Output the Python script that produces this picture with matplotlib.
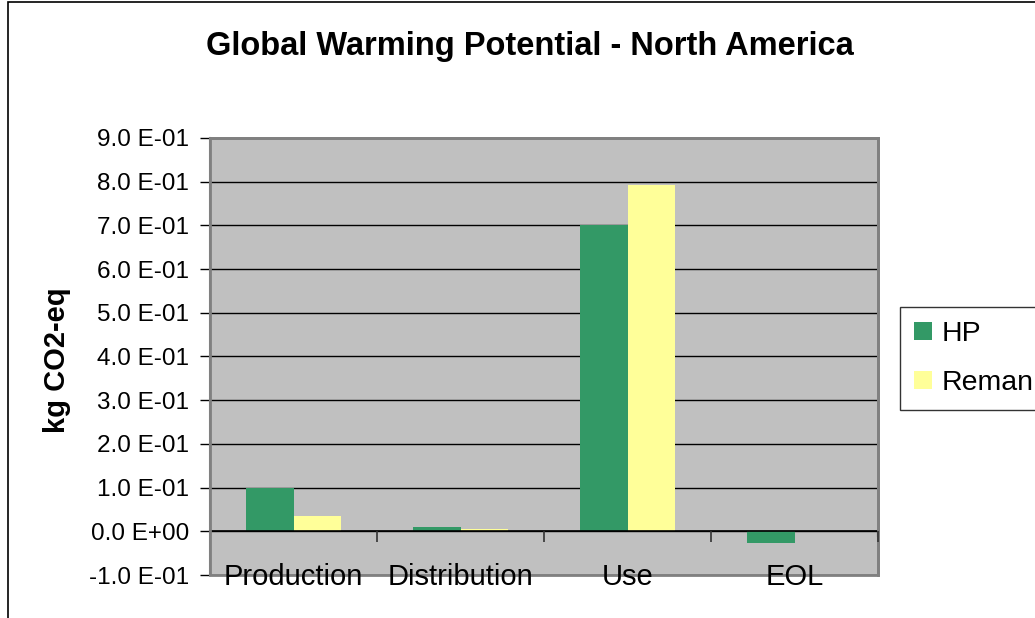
import numpy as np
import matplotlib.pyplot as plt
from matplotlib.patches import Rectangle
from matplotlib.ticker import FixedLocator, FuncFormatter

plt.rcParams['font.family'] = ['Liberation Sans', 'DejaVu Sans']

stages = ['Production', 'Distribution', 'Use', 'EOL']
hp = [0.100, 0.010, 0.700, -0.027]
reman = [0.035, 0.005, 0.793, 0.0]

green = '#339966'
yellow = '#FFFF99'


def sci_label(v, pos):
    if abs(v) < 1e-9:
        return '0.0 E+00'
    exp = int(np.floor(np.log10(abs(v))))
    mant = v / 10 ** exp
    sign = '+' if exp >= 0 else '-'
    return '%.1f E%s%02d' % (mant, sign, abs(exp))


fig = plt.figure(figsize=(10.35, 6.18), dpi=100)
ax = fig.add_axes([210 / 1035, 1 - 575 / 618, 668 / 1035, 437 / 618])
ax.set_facecolor('#C0C0C0')

x = np.arange(len(stages))
w = 0.285
ax.bar(x - w / 2, hp, w, color=green, label='HP', zorder=3)
ax.bar(x + w / 2, reman, w, color=yellow, label='Reman', zorder=3)

ax.set_xlim(-0.5, len(stages) - 0.5)
ax.set_ylim(-0.1, 0.9)
ax.set_yticks(np.arange(-0.1, 0.91, 0.1))
ax.yaxis.set_major_formatter(FuncFormatter(sci_label))
ax.yaxis.grid(True, color='black', linewidth=1.0, zorder=1)
ax.set_axisbelow(True)
ax.tick_params(axis='y', direction='out', length=7, width=1, labelsize=17.5, pad=8)

# category axis sits on zero, labels stay below the plot area
ax.spines['bottom'].set_position(('data', 0))
ax.spines['bottom'].set_linewidth(1.2)
ax.spines['bottom'].set_zorder(4)
ax.set_xticks(x)
ax.set_xticklabels(stages)
ax.xaxis.set_minor_locator(FixedLocator(np.arange(0.5, len(stages) - 0.4, 1.0)))
ax.tick_params(axis='x', which='major', length=0, labelsize=21, pad=23)
ax.tick_params(axis='x', which='minor', direction='out', length=8, width=1.2, color='#333333')
ax.xaxis.set_zorder(6)
ax.axvline(len(stages) - 0.5, ymin=0.1, ymax=0.09, color='black')

for side in ['top', 'right']:
    ax.spines[side].set_color('#808080')
    ax.spines[side].set_linewidth(2)
ax.spines['left'].set_color('#808080')
ax.spines['left'].set_linewidth(1.5)

# bottom frame of the plot area
ax.add_patch(Rectangle((0, 0), 1, 1, transform=ax.transAxes, fill=False,
                       edgecolor='#808080', linewidth=2, zorder=5, clip_on=False))

fig.text(0.512, 1 - 47 / 618, 'Global Warming Potential - North America',
         ha='center', va='center', fontsize=23.5, fontweight='bold')
fig.text(57 / 1035, 1 - 360 / 618, 'kg CO2-eq', rotation=90,
         ha='center', va='center', fontsize=21, fontweight='bold')

leg = fig.legend(loc='upper left', bbox_to_anchor=(900 / 1035, 1 - 307 / 618),
                 borderaxespad=0, fontsize=20.5, frameon=True, fancybox=False,
                 edgecolor='black', handlelength=0.62, handleheight=0.62,
                 handletextpad=0.35, borderpad=0.5, labelspacing=0.8)
leg.get_frame().set_linewidth(1)

# outer chart border
fig.patches.append(Rectangle((8 / 1035, -0.1), 1.2, 1.1 - 2.5 / 618,
                             transform=fig.transFigure, fill=False,
                             edgecolor='black', linewidth=1.2))

fig.savefig('out.png', dpi=100, facecolor='white')
